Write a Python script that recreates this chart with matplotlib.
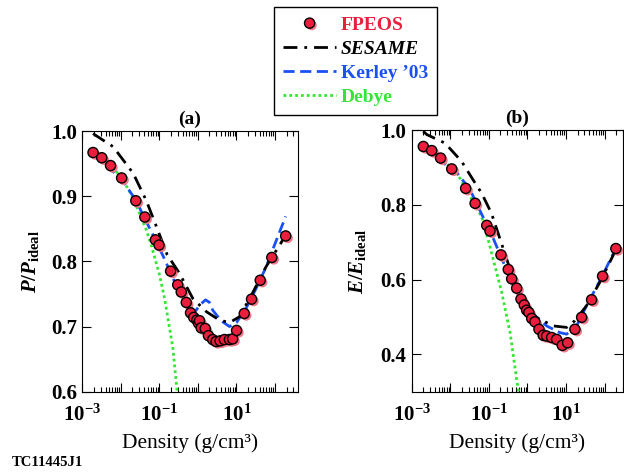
import numpy as np
import matplotlib
matplotlib.use('Agg')
import matplotlib.pyplot as plt
import matplotlib.ticker as mticker
import matplotlib.patheffects as pe

plt.rcParams.update({
    'font.family': 'Liberation Serif',
    'font.weight': 'bold',
    'mathtext.fontset': 'custom',
    'mathtext.rm': 'Liberation Serif:bold',
    'mathtext.it': 'Liberation Serif:italic:bold',
    'mathtext.bf': 'Liberation Serif:bold',
})

# ---- panel (a): pressure ----
dens_a = [1.9e-3, 3.2e-3, 5.4e-3, 1.05e-2, 2.45e-2, 4.2e-2, 7.9e-2, 9.8e-2, 0.196, 0.30,
          0.37, 0.50, 0.645, 0.78, 0.94, 1.04, 1.1, 1.22, 1.55, 1.88, 2.43, 2.97, 3.77,
          4.86, 6.6, 8.0, 10.1, 16, 24.7, 41.5, 83, 190]
p_fpeos = [0.967, 0.959, 0.947, 0.928, 0.893, 0.868, 0.833, 0.825, 0.785, 0.764,
           0.753, 0.737, 0.721, 0.714, 0.710, 0.705, 0.709, 0.698, 0.697, 0.686, 0.680,
           0.677, 0.678, 0.680, 0.680, 0.681, 0.694, 0.720, 0.742, 0.771, 0.806, 0.839]

sesame_a_x = [1.9e-3, 6.3e-3, 2.1e-2, 4.6e-2, 9.1e-2, 0.16, 0.33, 0.74, 1.64, 3.6, 6.6,
              12, 26, 59, 126, 190]
sesame_a_y = [0.996, 0.976, 0.935, 0.893, 0.848, 0.810, 0.782, 0.743, 0.723, 0.710,
              0.706, 0.715, 0.751, 0.792, 0.823, 0.840]

kerley_a_x = [1.9e-3, 1e-2, 2.5e-2, 4e-2, 7.9e-2, 0.14, 0.26, 0.51, 0.85, 1.12, 1.58,
              2.0, 2.43, 4.0, 6.6, 10, 17.8, 31.6, 57.5, 105, 190]
kerley_a_y = [0.963, 0.928, 0.893, 0.868, 0.833, 0.802, 0.766, 0.736, 0.723, 0.733,
              0.741, 0.737, 0.725, 0.709, 0.700, 0.706, 0.728, 0.757, 0.790, 0.830, 0.869]

debye_a_x = [1.9e-3, 5e-3, 1e-2, 1.7e-2, 2.8e-2, 4.6e-2, 6.3e-2, 0.1, 0.138, 0.186,
             0.224, 0.29, 0.35]
debye_a_y = [0.965, 0.950, 0.930, 0.907, 0.879, 0.848, 0.823, 0.780, 0.742, 0.696,
             0.667, 0.600, 0.550]

# ---- panel (b): energy ----
dens_b = [2.0e-3, 3.3e-3, 5.6e-3, 1.09e-2, 2.5e-2, 4.4e-2, 8.8e-2, 0.107, 0.206, 0.318,
          0.39, 0.525, 0.68, 0.826, 0.953, 1.09, 1.29, 1.56, 1.99, 2.56, 3.14, 4.24,
          5.7, 8.0, 11.0, 17.0, 25.4, 46, 88.7, 196]
e_fpeos = [0.956, 0.945, 0.925, 0.896, 0.844, 0.804, 0.745, 0.730, 0.666, 0.627,
           0.602, 0.577, 0.548, 0.532, 0.518, 0.512, 0.496, 0.487, 0.467, 0.451,
           0.449, 0.445, 0.440, 0.424, 0.431, 0.467, 0.499, 0.546, 0.609, 0.683]

sesame_b_x = [2.0e-3, 2.45e-3, 7.3e-3, 1.97e-2, 3.94e-2, 6.5e-2, 0.117, 0.275, 0.64,
              1.41, 4.66, 10.4, 17, 34, 75.5, 167, 224]
sesame_b_y = [0.997, 0.988, 0.965, 0.916, 0.866, 0.831, 0.777, 0.662, 0.548, 0.503,
              0.476, 0.472, 0.490, 0.530, 0.593, 0.665, 0.690]

kerley_b_x = [2.0e-3, 3.6e-3, 1e-2, 1.47e-2, 3.2e-2, 6.5e-2, 0.13, 0.29, 0.64, 1.41,
              3.14, 6.95, 10.4, 18.8, 34, 75.5, 204]
kerley_b_y = [0.950, 0.936, 0.897, 0.886, 0.842, 0.775, 0.710, 0.625, 0.557, 0.508,
              0.476, 0.458, 0.454, 0.476, 0.530, 0.597, 0.687]

debye_b_x = [2.0e-3, 3.55e-3, 6.0e-3, 1.1e-2, 1.78e-2, 4.4e-2, 6.5e-2, 0.1, 0.129,
             0.215, 0.355, 0.525, 0.63]
debye_b_y = [0.953, 0.937, 0.920, 0.898, 0.871, 0.799, 0.768, 0.700, 0.655, 0.566,
             0.458, 0.333, 0.280]

labels = ['FPEOS', 'SESAME', "Kerley \u201903", 'Debye']
colors = ['#ea1f3d', 'black', '#1a50f5', '#33e633']


def xfmt(x, pos):
    e = int(round(np.log10(x)))
    if e in (-3, -1, 1):
        return r'$10^{%d}$' % e
    return ''


def style_axis(ax, xmax, ylim, yticks):
    ax.set_xscale('log')
    ax.set_xlim(1e-3, xmax)
    ax.set_ylim(*ylim)
    ax.set_yticks(yticks)
    ax.yaxis.set_major_formatter(mticker.FormatStrFormatter('%.1f'))
    ax.xaxis.set_major_locator(mticker.LogLocator(base=10, numticks=20))
    ax.xaxis.set_minor_locator(mticker.LogLocator(base=10, subs=np.arange(2, 10), numticks=20))
    ax.xaxis.set_minor_formatter(mticker.NullFormatter())
    ax.xaxis.set_major_formatter(mticker.FuncFormatter(xfmt))
    ax.tick_params(which='both', direction='in', top=True, right=True, width=0.8)
    ax.tick_params(which='major', length=6.5, labelsize=15)
    ax.tick_params(axis='y', pad=4)
    ax.tick_params(axis='x', pad=9)
    ax.tick_params(which='minor', length=3.5)
    for s in ax.spines.values():
        s.set_linewidth(0.8)
    ax.set_xlabel('Density (g/cm\u00b3)', fontsize=15.5, fontweight='normal', labelpad=6)


def draw_panel(ax, dens, vals, ses_x, ses_y, ker_x, ker_y, deb_x, deb_y):
    l_deb, = ax.plot(deb_x, deb_y, color=colors[3], lw=2, ls=(0, (1, 1.1)), zorder=2)
    l_ker, = ax.plot(ker_x, ker_y, color=colors[2], lw=2, ls=(0, (4, 2)), zorder=3)
    l_ses, = ax.plot(ses_x, ses_y, color='black', lw=2, ls=(0, (5, 2.5, 1, 2.5)), zorder=3)
    l_pts, = ax.plot(dens, vals, ls='none', marker='o', ms=7.3, mfc=colors[0], mec='black',
                     mew=1.0, zorder=5,
                     path_effects=[pe.SimplePatchShadow(offset=(1.5, -1.5),
                                                        shadow_rgbFace='#f07a88', alpha=1),
                                   pe.Normal()])
    return [l_pts, l_ses, l_ker, l_deb]


fig = plt.figure(figsize=(6.24, 4.72), dpi=100)
ax_a = fig.add_axes([0.1319, 0.1701, 0.3452, 0.5523])
ax_b = fig.add_axes([0.6598, 0.1701, 0.3386, 0.5544])

handles = draw_panel(ax_a, dens_a, p_fpeos, sesame_a_x, sesame_a_y,
                     kerley_a_x, kerley_a_y, debye_a_x, debye_a_y)
draw_panel(ax_b, dens_b, e_fpeos, sesame_b_x, sesame_b_y,
           kerley_b_x, kerley_b_y, debye_b_x, debye_b_y)

style_axis(ax_a, 390, (0.6, 1.0), [0.6, 0.7, 0.8, 0.9, 1.0])
style_axis(ax_b, 300, (0.3, 1.0), [0.4, 0.6, 0.8, 1.0])

ax_a.set_ylabel(r'$P/P_{\mathrm{ideal}}$', fontsize=15)
ax_b.set_ylabel(r'$E/E_{\mathrm{ideal}}$', fontsize=15)
ax_a.yaxis.set_label_coords(-0.19, 0.5)
ax_b.yaxis.set_label_coords(-0.205, 0.5)
ax_a.set_title('(a)', fontsize=14, fontweight='bold', pad=5)
ax_b.set_title('(b)', fontsize=14, fontweight='bold', pad=5)

leg = fig.legend(handles, labels, loc='upper left', bbox_to_anchor=(274 / 624, 1 - 7 / 472),
                 fontsize=14, frameon=True, fancybox=False, edgecolor='black', framealpha=1,
                 borderpad=0.48, handletextpad=0.25, handlelength=2.7, labelspacing=0.33,
                 numpoints=1, labelcolor=colors, borderaxespad=0)
leg.get_frame().set_linewidth(1.0)
leg.get_texts()[1].set_fontstyle('italic')

fig.text(12 / 624, 1 - 462 / 472, 'TC11445J1', fontsize=10.5, fontweight='bold',
         ha='left', va='center')

fig.savefig('out.png', dpi=100)
